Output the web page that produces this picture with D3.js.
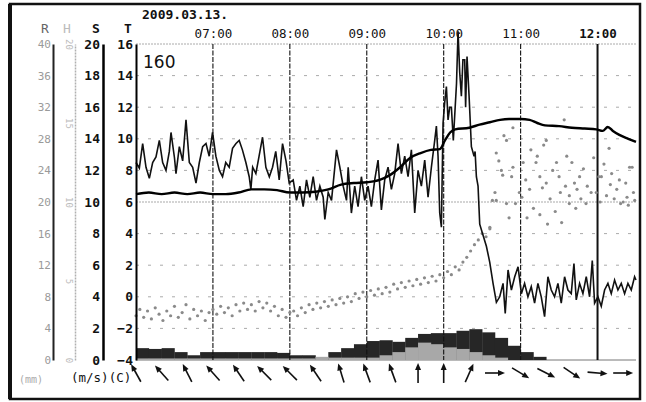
<!DOCTYPE html>
<html>
<head>
<meta charset="utf-8">
<script src="https://cdn.jsdelivr.net/npm/d3@7"></script>
<style>
  body { margin: 0; background: #fff; }
  text { font-family: "DejaVu Sans Mono", monospace; }
</style>
</head>
<body>
<div id="chart"></div>
<script>
// chart data
const dateLabel = "2009.03.13.";
const stationLabel = "160";
const hourMinutes = [60, 120, 180, 240, 300, 360];
const hourLabels = ["07:00", "08:00", "09:00", "10:00", "11:00", "12:00"];

const tTicks = [16, 14, 12, 10, 8, 6, 4, 2, 0, -2, -4];
const sTicks = [20, 18, 16, 14, 12, 10, 8, 6, 4, 2, 0];
const rTicks = [40, 36, 32, 28, 24, 20, 16, 12, 8, 4, 0];
const hTicks = [20, 15, 10, 5, 0];

// thick smooth line [minute after 06:00, value on T scale]
const smoothLine = [[0,6.5],[10,6.6],[20,6.5],[30,6.6],[40,6.5],[50,6.6],[60,6.5],[70,6.5],[80,6.6],
  [90,6.8],[100,6.8],[110,6.75],[120,6.6],[130,6.6],[140,6.65],[150,6.8],[160,7.1],[170,7.2],[180,7.25],
  [190,7.4],[198,7.7],[206,8.2],[214,8.8],[222,9.1],[230,9.3],[237,9.35],[241,9.9],[245,10.4],[249,10.6],
  [260,10.7],[268,10.9],[276,11.05],[284,11.2],[291,11.25],[300,11.25],[307,11.2],[313,11.0],[319,10.85],
  [330,10.8],[340,10.7],[350,10.65],[359,10.6],[364,10.5],[368,10.75],[372,10.5],[377,10.25],[384,10.0],[390,9.8]];

// noisy line [minute, value on T scale]
const noisyLine = [[0,8.5],[2.6,8.15],[5.2,9.7],[7.8,8.2],[10.4,7.5],[13,8.5],[15.6,8.85],[18.2,9.9],[20.8,8.5],
  [23.4,8.0],[26,9.2],[27.3,10.4],[30,8.8],[31.2,7.8],[33.8,9.5],[36.4,8.6],[37.7,9.9],[39,11.2],[41.6,8.5],
  [44.2,8.2],[46.8,7.2],[49.4,8.5],[52,9.5],[54.6,9.7],[57.1,8.9],[59.7,10.4],[62.3,8.9],[65,8.0],[67.5,7.6],
  [70,8.5],[72.7,8.2],[75.3,9.4],[78,9.7],[80.5,9.9],[83,9.3],[85.7,8.5],[88.3,7.6],[89.6,6.8],[91,8.2],
  [93.5,7.8],[96,8.9],[98.7,10.1],[101.3,8.2],[104,7.6],[106.5,8.2],[109,9.2],[111.7,7.4],[114.3,9.7],
  [117,8.6],[119.5,7.2],[122.6,7.4],[125.2,6.1],[127.8,7.0],[130.4,5.7],[133,7.4],[135.6,6.3],[138.2,7.6],
  [140.8,6.1],[143.4,7.0],[146,6.3],[147.3,4.9],[149.9,6.6],[152.5,6.1],[156.4,9.3],[159,8.2],[161.6,7.0],
  [164.2,6.1],[165.5,8.2],[168,5.3],[170.6,7.0],[173.2,5.7],[175.8,7.6],[178.4,6.1],[181,7.0],[183.6,5.7],
  [186.2,7.4],[188.8,8.65],[191.4,5.5],[194,7.4],[196.6,8.2],[199.2,6.8],[201.8,7.8],[204.4,9.7],[207,7.8],
  [209.6,8.9],[212.2,7.6],[214.8,9.3],[217.4,5.3],[220,8.0],[222.6,7.0],[225.2,8.65],[227.8,6.3],[230.4,8.2],
  [233,9.9],[234.3,10.8],[235.6,8.9],[236.9,5.3],[238.2,4.4],[239.5,11.0],[240.8,12.3],[242.1,13.3],
  [243.4,11.2],[244.7,12.0],[246,12.0],[247.5,9.9],[250,13.5],[251.2,16.8],[252.5,14.2],[253.8,12.7],
  [255,15.0],[256.4,15.0],[257.1,12.0],[258.2,15.2],[259.8,12.7],[261.6,9.5],[263.7,8.9],[264.5,9.2],
  [265.5,7.6],[266.8,7.0],[268.1,4.6],[270.7,3.9],[273.3,3.2],[275.9,2.2],[278.5,0.85],[281.1,-0.35],
  [283.7,0.0],[286.3,0.85],[288,-1.05],[290.2,1.7],[292.8,0.43],[295.4,1.27],[298,1.9],[300.6,0.2],
  [303.1,0.85],[305.7,0.0],[308.3,0.64],[310.9,-0.4],[313.5,0.85],[316.1,0.0],[318.7,-1.26],[321.3,1.27],
  [323.9,0.43],[326.5,0.0],[329.1,0.85],[331.7,-0.4],[334.3,1.27],[336.9,0.43],[339.5,0.2],[341.6,2.1],
  [343.4,-0.2],[346,0.85],[348.6,0.2],[351.2,1.27],[353.8,0.0],[355.9,2.3],[357.7,-0.4],[360.3,0.0],
  [362.9,-0.6],[365.5,0.43],[368.1,0.85],[370.7,0.2],[373.3,1.06],[375.9,0.43],[378.5,0.85],[381.1,0.2],
  [383.7,0.85],[386.3,0.43],[388.9,1.27],[390,1.06]];

// grey dotted series [minute, value on T scale]
const greyDots = [[0,-1.2],[3,-0.8],[6,-1.3],[9,-0.9],[12,-1.4],[15,-0.7],[18,-1.1],[21,-1.5],[24,-0.9],
  [27,-1.2],[30,-0.6],[33,-1.3],[36,-1.0],[39,-0.5],[42,-1.4],[45,-0.8],[48,-1.2],[51,-0.9],[54,-1.5],
  [57,-1.0],[60,-0.8],[63,-1.1],[66,-0.6],[69,-1.0],[72,-0.7],[75,-1.2],[78,-0.5],[81,-0.9],[84,-0.4],
  [87,-0.8],[90,-0.5],[93,-0.9],[96,-0.3],[99,-0.7],[102,-0.4],[105,-0.9],[108,-0.6],[111,-1.2],[114,-0.8],
  [117,-1.3],[120,-1.0],[123,-0.9],[126,-1.2],[129,-0.7],[132,-1.0],[135,-0.5],[138,-0.8],[141,-0.4],
  [144,-0.7],[147,-0.3],[150,-0.6],[153,-0.2],[156,-0.5],[159,-0.1],[162,-0.4],[165,0.0],[168,-0.3],
  [171,0.2],[174,-0.1],[177,0.3],[180,0.0],[183,0.4],[186,0.1],[189,0.5],[192,0.2],[195,0.6],[198,0.3],
  [201,0.8],[204,0.5],[207,0.9],[210,0.6],[213,1.0],[216,0.7],[219,1.1],[222,0.8],[225,1.2],[228,0.9],
  [231,1.3],[234,1.0],[237,1.4],[240,1.2],[243,1.6],[246,1.4],[249,1.9],[252,1.7],[255,2.2],[258,2.5],
  [261,2.9],[264,3.3],[267,3.6],[270,4.0],[273,3.8],[276,4.3],
  [276,4.4],[278,6.1],[280,6.6],[281,9.1],[281,6.1],[283,8.6],[285,8.0],[286,7.7],[287,10.2],[289,9.9],
  [289,5.9],[291,5.0],[293,7.6],[294,8.2],[294,10.7],[296,5.9],[299,6.6],[301,6.3],[302,8.5],[304,7.4],
  [305,5.0],[307,6.8],[308,9.3],[310,5.6],[312,8.5],[313,8.9],[315,7.6],[315,5.2],[317,6.9],[318,9.6],
  [320,9.9],[320,7.2],[321,4.6],[323,6.2],[325,8.0],[327,5.4],[328,8.5],[330,7.6],[331,6.6],[332,4.7],
  [334,11.2],[335,7.0],[336,8.9],[338,5.9],[338,6.4],[340,8.5],[342,7.2],[343,5.6],[344,6.8],[346,7.6],
  [347,6.2],[349,8.1],[351,5.9],[352,7.0],[355,6.6],[357,8.8],[359,6.6],[361,7.6],[362,6.0],[363,7.6],
  [365,8.4],[367,6.4],[369,9.4],[370,7.1],[371,7.8],[373,6.2],[375,6.8],[377,7.4],[378,5.9],[380,6.0],
  [382,7.2],[383,6.3],[384,5.8],[385,8.2],[387,8.2],[388,6.6],[389,6.1]];

// 10-minute blocks on the R scale (mm), from 06:00
const darkBlocks = [1.5,1.4,1.5,1.0,0.6,1.0,1.0,1.0,1.0,1.0,1.0,0.9,0.6,0.6,0.2,1.0,1.5,2.0,2.4,2.5,
  2.3,2.8,3.3,3.4,3.4,3.7,3.9,3.5,2.8,1.8,1.0,0.4,0,0,0,0,0,0,0];
const lightBlocks = [0.2,0.2,0.2,0.2,0.2,0.2,0.2,0.2,0.2,0.2,0.2,0.2,0.2,0.2,0.4,0.3,0.3,0.3,0.3,0.6,
  1.0,1.6,2.2,2.0,1.6,1.4,1.0,0.6,0.3,0,0,0,0,0,0,0,0,0,0];

// wind arrows every 20 minutes, direction the arrow points (degrees, 0 = up)
const windMinutes = [0,20,40,60,80,100,120,140,160,180,200,220,240,260,280,300,320,340,360,380];
const windDirs = [331,318,333,318,326,315,315,326,343,340,340,0,0,24,90,121,117,124,95,90];

const W = 646, H = 402;
const plot = { left: 136, right: 636, top: 44, bottom: 360 };

let svg = d3.select('#chart')
  .append('svg')
  .attr('width', W)
  .attr('height', H);

let x = d3.scaleLinear().domain([0, 390]).range([plot.left, plot.right]);
let yT = d3.scaleLinear().domain([-4, 16]).range([plot.bottom, plot.top]);
let yS = d3.scaleLinear().domain([0, 20]).range([plot.bottom, plot.top]);
let yR = d3.scaleLinear().domain([0, 40]).range([plot.bottom, plot.top]);
let yH = d3.scaleLinear().domain([0, 20]).range([plot.bottom, plot.top]);

// outer frame
svg.append('rect')
  .attr('x', 10).attr('y', 4)
  .attr('width', 630).attr('height', 395)
  .attr('fill', 'none').attr('stroke', '#111').attr('stroke-width', 2.5);
svg.append('line')
  .attr('x1', 10).attr('x2', 10).attr('y1', 4).attr('y2', 399)
  .attr('stroke', '#111').attr('stroke-width', 4);

// horizontal grid
svg.append('g').selectAll('line')
  .data(tTicks)
  .enter().append('line')
  .attr('x1', plot.left).attr('x2', plot.right)
  .attr('y1', d => yT(d)).attr('y2', d => yT(d))
  .attr('stroke', d => d == -4 ? '#777' : '#aaa')
  .attr('stroke-width', d => d == 6 ? 1.2 : 1)
  .attr('stroke-dasharray', d => d == -4 ? null : (d == 6 || d == 16) ? '2,1' : '3,9');

// rain blocks
let blockW = x(10) - x(0);
svg.append('g').selectAll('rect')
  .data(darkBlocks)
  .enter().append('rect')
  .attr('x', (d, i) => x(i * 10))
  .attr('y', d => yR(d))
  .attr('width', blockW + 0.3)
  .attr('height', d => yR(0) - yR(d))
  .attr('fill', '#262626');
svg.append('g').selectAll('rect')
  .data(lightBlocks)
  .enter().append('rect')
  .attr('x', (d, i) => x(i * 10))
  .attr('y', d => yR(d))
  .attr('width', blockW + 0.3)
  .attr('height', d => yR(0) - yR(d))
  .attr('fill', '#a8a8a8');

// hour lines
svg.append('g').selectAll('line')
  .data(hourMinutes)
  .enter().append('line')
  .attr('x1', d => x(d)).attr('x2', d => x(d))
  .attr('y1', plot.top).attr('y2', plot.bottom)
  .attr('stroke', '#111')
  .attr('stroke-width', d => d == 360 ? 2 : 1.1)
  .attr('stroke-dasharray', d => d == 360 ? null : '5,1.5');

// grey dots
svg.append('g').selectAll('circle')
  .data(greyDots)
  .enter().append('circle')
  .attr('cx', d => x(d[0]))
  .attr('cy', d => yT(d[1]))
  .attr('r', 1.6)
  .attr('fill', '#8a8a8a');

// lines
let line = d3.line().x(d => x(d[0])).y(d => yT(d[1]));
svg.append('path')
  .datum(noisyLine)
  .attr('d', line)
  .attr('fill', 'none').attr('stroke', '#111').attr('stroke-width', 1.6);
svg.append('path')
  .datum(smoothLine)
  .attr('d', d3.line().x(d => x(d[0])).y(d => yT(d[1])).curve(d3.curveMonotoneX))
  .attr('fill', 'none').attr('stroke', '#000').attr('stroke-width', 2.4);

// left axes
function leftAxis(scale, ticks, xPos, opts) {
  let g = svg.append('g')
    .attr('transform', 'translate(' + xPos + ',0)')
    .call(d3.axisLeft(scale).tickValues(ticks).tickSize(0).tickSizeOuter(0).tickPadding(opts.pad));
  g.select('.domain')
    .attr('stroke', opts.line)
    .attr('stroke-width', opts.lineW)
    .attr('stroke-dasharray', opts.dash || null);
  g.selectAll('text')
    .attr('fill', opts.color)
    .style('font-size', opts.size + 'px')
    .style('font-weight', opts.weight)
    .style('font-family', '"DejaVu Sans Mono", monospace');
  return g;
}
leftAxis(yR, rTicks, 53, { pad: 2, line: '#222', lineW: 2, color: '#9a9a9a', size: 11, weight: 'normal' });
let hAx = leftAxis(yH, hTicks, 75, { pad: 8, line: '#b0b0b0', lineW: 1.5, dash: '2,1', color: '#bbb', size: 9, weight: 'normal' });
hAx.selectAll('.tick text')
  .attr('text-anchor', 'middle')
  .attr('x', -9)
  .attr('dy', 0)
  .attr('transform', 'rotate(90,-9,0)');
leftAxis(yS, sTicks, 103, { pad: 3, line: '#000', lineW: 2.5, color: '#111', size: 13, weight: 'bold' });
leftAxis(yT, tTicks, 136, { pad: 3, line: '#000', lineW: 2, color: '#111', size: 13, weight: 'bold' });

// top time axis
let topAx = svg.append('g')
  .attr('transform', 'translate(0,38)')
  .call(d3.axisTop(x).tickValues(hourMinutes).tickFormat((d, i) => hourLabels[i]).tickSize(0).tickPadding(0));
topAx.select('.domain').remove();
topAx.selectAll('text')
  .attr('fill', '#111')
  .style('font-size', '12.5px')
  .style('font-weight', (d, i) => i == hourLabels.length - 1 ? 'bold' : 'normal')
  .style('font-family', '"DejaVu Sans Mono", monospace');

// column headers and units
const headers = [['R', 45, '#666', 'normal'], ['H', 67, '#bbb', 'normal'], ['S', 96, '#111', 'bold'], ['T', 128, '#111', 'bold']];
svg.append('g').selectAll('text')
  .data(headers)
  .enter().append('text')
  .attr('x', d => d[1]).attr('y', 33)
  .attr('text-anchor', 'middle')
  .attr('fill', d => d[2])
  .style('font-size', '13px')
  .style('font-weight', d => d[3])
  .text(d => d[0]);

svg.append('text')
  .attr('x', 142).attr('y', 19)
  .attr('fill', '#111')
  .style('font-size', '13px').style('font-weight', 'bold')
  .text(dateLabel);

svg.append('text')
  .attr('x', 143).attr('y', 68)
  .attr('fill', '#111')
  .style('font-size', '17px').style('font-family', '"DejaVu Sans", sans-serif')
  .text(stationLabel);

svg.append('text')
  .attr('x', 19).attr('y', 383)
  .attr('fill', '#aaa')
  .style('font-size', '10px')
  .text('(mm)');
svg.append('text')
  .attr('x', 71).attr('y', 382)
  .attr('fill', '#111')
  .style('font-size', '12.5px')
  .text('(m/s)(C)');

// wind arrows
let arrowLen = 20;
let arrows = svg.append('g').selectAll('g')
  .data(windMinutes)
  .enter().append('g')
  .attr('transform', (d, i) => 'translate(' + x(d) + ',373) rotate(' + windDirs[i] + ')');
arrows.append('line')
  .attr('x1', 0).attr('x2', 0)
  .attr('y1', arrowLen / 2).attr('y2', -arrowLen / 2 + 4)
  .attr('stroke', '#111').attr('stroke-width', 1.6);
arrows.append('path')
  .attr('d', 'M0,' + (-arrowLen / 2) + ' L-3,' + (-arrowLen / 2 + 7) + ' L3,' + (-arrowLen / 2 + 7) + ' Z')
  .attr('fill', '#111');
</script>
</body>
</html>
